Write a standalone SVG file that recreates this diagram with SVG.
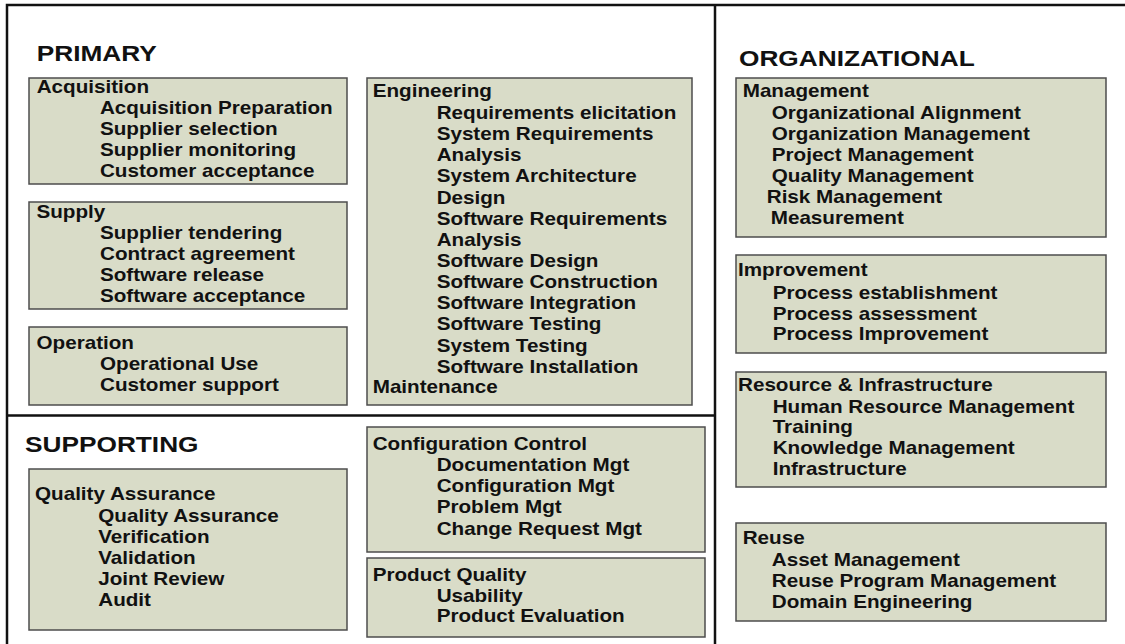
<svg xmlns="http://www.w3.org/2000/svg" width="1125" height="644" viewBox="0 0 1125 644">
<style>
.box{fill:#d9dcc8;stroke:#4d4d4d;stroke-width:1.5}
.frame{fill:none;stroke:#111;stroke-width:2.5}
text{font-family:"Liberation Sans",Arial,sans-serif;font-weight:bold;fill:#111}
.t{font-size:17.7px}
.h{font-size:22.5px}
</style>
<rect x="0" y="0" width="1125" height="644" fill="#ffffff"/>
<g id="frame">
<path class="frame" d="M7,660 V5 H1130 M715,5 V660 M7,415.5 H715"/>
</g>
<g id="titles">
<text class="h" transform="translate(36.7,0) scale(1.167,1)" y="61">PRIMARY</text>
<text class="h" transform="translate(25,0) scale(1.167,1)" y="452">SUPPORTING</text>
<text class="h" transform="translate(739,0) scale(1.167,1)" y="66">ORGANIZATIONAL</text>
</g>
<g id="acquisition">
<rect class="box" x="29" y="78" width="318" height="106"/>
<text class="t" transform="translate(36.7,0) scale(1.167,1)"><tspan x="0" y="93">Acquisition</tspan><tspan x="54.2" y="114">Acquisition Preparation</tspan><tspan x="54.2" y="135">Supplier selection</tspan><tspan x="54.2" y="156">Supplier monitoring</tspan><tspan x="54.2" y="177">Customer acceptance</tspan></text>
</g>
<g id="supply">
<rect class="box" x="29" y="202" width="318" height="107"/>
<text class="t" transform="translate(36.5,0) scale(1.167,1)"><tspan x="0" y="218">Supply</tspan><tspan x="54.4" y="239">Supplier tendering</tspan><tspan x="54.4" y="260">Contract agreement</tspan><tspan x="54.4" y="281">Software release</tspan><tspan x="54.4" y="302">Software acceptance</tspan></text>
</g>
<g id="operation">
<rect class="box" x="29" y="327" width="318" height="78"/>
<text class="t" transform="translate(36.5,0) scale(1.167,1)"><tspan x="0" y="349">Operation</tspan><tspan x="54.4" y="370">Operational Use</tspan><tspan x="54.4" y="391">Customer support</tspan></text>
</g>
<g id="engineering">
<rect class="box" x="367" y="78" width="325" height="327"/>
<text class="t" transform="translate(372.7,0) scale(1.167,1)"><tspan x="0" y="97.5">Engineering</tspan><tspan x="54.8" y="119">Requirements elicitation</tspan><tspan x="54.8" y="140">System Requirements</tspan><tspan x="54.8" y="161">Analysis</tspan><tspan x="54.8" y="182.5">System Architecture</tspan><tspan x="54.8" y="204">Design</tspan><tspan x="54.8" y="225">Software Requirements</tspan><tspan x="54.8" y="246">Analysis</tspan><tspan x="54.8" y="267">Software Design</tspan><tspan x="54.8" y="288">Software Construction</tspan><tspan x="54.8" y="309.5">Software Integration</tspan><tspan x="54.8" y="330.5">Software Testing</tspan><tspan x="54.8" y="352">System Testing</tspan><tspan x="54.8" y="373">Software Installation</tspan><tspan x="0" y="393.5">Maintenance</tspan></text>
</g>
<g id="quality-assurance">
<rect class="box" x="29" y="469" width="318" height="161"/>
<text class="t" transform="translate(35,0) scale(1.167,1)"><tspan x="0" y="500">Quality Assurance</tspan><tspan x="54.2" y="522">Quality Assurance</tspan><tspan x="54.2" y="543">Verification</tspan><tspan x="54.2" y="564">Validation</tspan><tspan x="54.2" y="585">Joint Review</tspan><tspan x="54.2" y="606">Audit</tspan></text>
</g>
<g id="configuration-control">
<rect class="box" x="367" y="427" width="338" height="125"/>
<text class="t" transform="translate(372.7,0) scale(1.167,1)"><tspan x="0" y="450">Configuration Control</tspan><tspan x="54.8" y="471.5">Documentation Mgt</tspan><tspan x="54.8" y="492.5">Configuration Mgt</tspan><tspan x="54.8" y="513.5">Problem Mgt</tspan><tspan x="54.8" y="535">Change Request Mgt</tspan></text>
</g>
<g id="product-quality">
<rect class="box" x="367" y="558" width="338" height="79"/>
<text class="t" transform="translate(372.7,0) scale(1.167,1)"><tspan x="0" y="581">Product Quality</tspan><tspan x="54.8" y="602">Usability</tspan><tspan x="54.8" y="622.5">Product Evaluation</tspan></text>
</g>
<g id="management">
<rect class="box" x="736" y="78" width="370" height="159"/>
<text class="t" transform="translate(742.7,0) scale(1.167,1)"><tspan x="0" y="97.5">Management</tspan><tspan x="24.9" y="119">Organizational Alignment</tspan><tspan x="24.9" y="140">Organization Management</tspan><tspan x="24.9" y="161">Project Management</tspan><tspan x="24.9" y="182">Quality Management</tspan><tspan x="20.6" y="203.5">Risk Management</tspan><tspan x="24" y="224.5">Measurement</tspan></text>
</g>
<g id="improvement">
<rect class="box" x="736" y="255" width="370" height="98"/>
<text class="t" transform="translate(738,0) scale(1.167,1)"><tspan x="0" y="276">Improvement</tspan><tspan x="29.7" y="299">Process establishment</tspan><tspan x="29.7" y="320">Process assessment</tspan><tspan x="29.7" y="340">Process Improvement</tspan></text>
</g>
<g id="resource-infrastructure">
<rect class="box" x="736" y="372" width="370" height="115"/>
<text class="t" transform="translate(738,0) scale(1.167,1)"><tspan x="0" y="391.5">Resource &amp; Infrastructure</tspan><tspan x="29.7" y="413">Human Resource Management</tspan><tspan x="29.7" y="433.5">Training</tspan><tspan x="29.7" y="454.5">Knowledge Management</tspan><tspan x="29.7" y="475">Infrastructure</tspan></text>
</g>
<g id="reuse">
<rect class="box" x="736" y="523" width="370" height="98"/>
<text class="t" transform="translate(742.7,0) scale(1.167,1)"><tspan x="0" y="544">Reuse</tspan><tspan x="24.9" y="566">Asset Management</tspan><tspan x="24.9" y="587">Reuse Program Management</tspan><tspan x="24.9" y="608">Domain Engineering</tspan></text>
</g>
<g id="connectors"></g>
</svg>
